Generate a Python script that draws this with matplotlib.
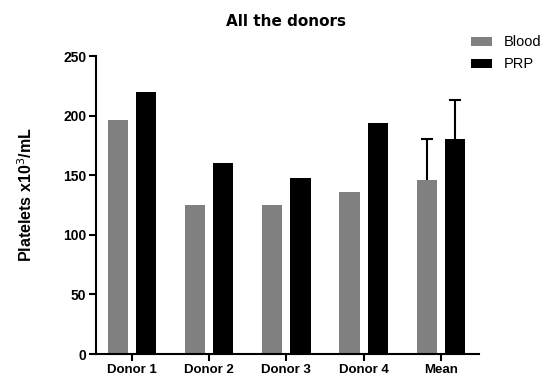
import matplotlib
matplotlib.use("Agg")
import matplotlib.pyplot as plt
import numpy as np

plt.rcParams['font.family'] = ['Liberation Sans', 'DejaVu Sans']

# Platelet counts per donor
groups = ["Donor 1", "Donor 2", "Donor 3", "Donor 4", "Mean"]
blood = [196, 125, 125, 136, 146]
prp = [220, 160, 148, 194, 180]
blood_sd = 34
prp_sd = 33

x = np.arange(len(groups))
w = 0.26
off = 0.183

fig = plt.figure(figsize=(5.46, 3.76), dpi=100)
ax = fig.add_axes([0.1758, 0.0585, 0.701, 0.7925])

b1 = ax.bar(x - off, blood, w, color="#808080", label="Blood", zorder=2)
b2 = ax.bar(x + off, prp, w, color="black", label="PRP", zorder=2)

# upper SD only for the mean bars
for xe, ye, sd in [(x[-1] - off, blood[-1], blood_sd), (x[-1] + off, prp[-1], prp_sd)]:
    eb = ax.errorbar([xe], [ye], yerr=[[0], [sd]], fmt="none", ecolor="black",
                     elinewidth=1.5, capsize=4, capthick=1.5, zorder=1)
    eb[1][0].set_visible(False)

ax.set_xlim(-0.465, 4.49)
ax.set_ylim(0, 250)
ax.set_yticks([0, 50, 100, 150, 200, 250])
ax.set_xticks(x)
ax.set_xticklabels(groups, fontweight="bold", fontsize=9.5)
for lab in ax.get_yticklabels():
    lab.set_fontweight("bold")
    lab.set_fontsize(10)

for s in ["top", "right"]:
    ax.spines[s].set_visible(False)
for s in ["left", "bottom"]:
    ax.spines[s].set_linewidth(1.5)
ax.tick_params(width=1.5, length=5, pad=2)

fig.text(26 / 546, 1 - 195 / 376, "Platelets x10$^3$/mL", rotation=90,
         ha="center", va="center", fontweight="bold", fontsize=11.5)
fig.text(0.524, 0.943, "All the donors", ha="center", va="center",
         fontsize=11, fontweight="bold", family=["DejaVu Sans"])

fig.legend(handles=[b1, b2], loc="upper left", bbox_to_anchor=(0.839, 0.941),
           frameon=False, fontsize=10.5, handlelength=1.45, handleheight=0.55,
           handletextpad=0.75, labelspacing=0.55)

fig.savefig("out.png", dpi=100)
